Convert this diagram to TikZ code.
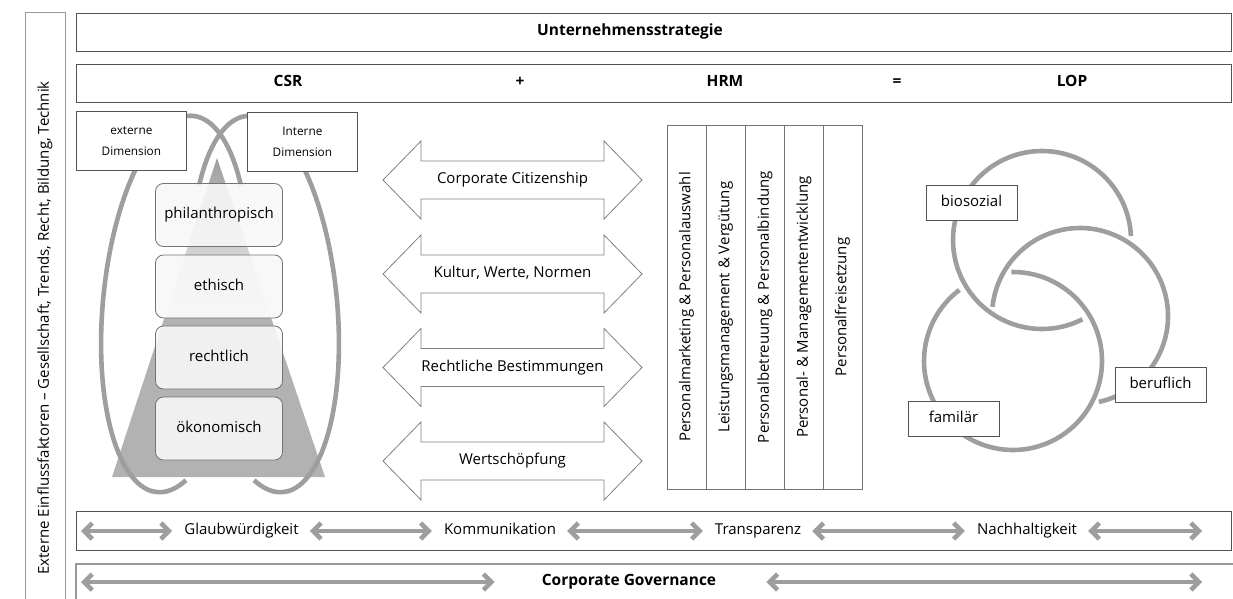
\documentclass[tikz,border=0pt]{standalone}
\usepackage{fontspec}
\setmainfont{Open Sans}
\usetikzlibrary{arrows.meta,calc}
\definecolor{boxline}{gray}{0.33}
\definecolor{lightline}{gray}{0.6}
\definecolor{ringgray}{gray}{0.62}
\definecolor{trigray}{gray}{0.70}
\begin{document}
\begin{tikzpicture}[x=1pt,y=1pt,
  box/.style={draw=boxline, line width=0.8pt, fill=white, inner sep=0pt},
  lvl/.style={draw=black!55, line width=0.8pt, fill=black!3, fill opacity=0.9, text opacity=1,
    rounded corners=8pt, minimum width=127pt, minimum height=63pt, inner sep=0pt, txt},
  ring/.style={draw=ringgray, line width=4.6pt},
  txt/.style={font=\fontsize{15}{18}\selectfont, inner sep=0pt, text height=11pt, text depth=3.5pt},
  btxt/.style={font=\fontsize{15.5}{18}\selectfont\bfseries, inner sep=0pt, text height=11pt, text depth=3.5pt},
  garrow/.style={draw=ringgray, line width=4.6pt,
    {Straight Barb[length=8pt,width=16pt]}-{Straight Barb[length=8pt,width=16pt]}},
  dimbox/.style={box, minimum width=110pt, minimum height=59pt, align=center,
    font=\fontsize{11.8}{21}\selectfont},
  vlabel/.style={box, minimum width=91pt, minimum height=35pt, txt},
  outl/.style={draw=black!50, line width=0.8pt, fill=white},
  dbl/.pic={\draw[outl] (-129.5,0) -- (-91.5,39) -- (-91.5,19) -- (91.5,19) -- (91.5,39)
     -- (129.5,0) -- (91.5,-39) -- (91.5,-19) -- (-91.5,-19) -- (-91.5,-39) -- cycle;}
]
\useasboundingbox (0,0) rectangle (1233,-599);
\clip (0,0) rectangle (1233,-599);

% left vertical box
\draw[lightline, line width=1pt] (25,-640) -- (25,-13) -- (65,-13) -- (65,-640);
\node[txt, rotate=90] (ext) at (45,-328) {Externe Einflussfaktoren – Gesellschaft, Trends, Recht, Bildung, Technik};

% header boxes
\node[box, anchor=north west, minimum width=1155pt, minimum height=38pt] (strat) at (76,-13) {};
\node[btxt] (us) at (630,-32) {Unternehmensstrategie};
\node[box, anchor=north west, minimum width=1155pt, minimum height=38pt] (eqbox) at (76,-64) {};
\node[btxt] (csr) at (288,-83) {CSR};
\node[btxt] (plus) at (520,-83) {+};
\node[btxt] (hrmt) at (725,-83) {HRM};
\node[btxt] (eqs) at (897,-83) {=};
\node[btxt] (lop) at (1072,-83) {LOP};

% pyramid
\shade[top color=black!38, bottom color=black!3] (217,-158) -- (164.3,-318) -- (271.2,-318) -- cycle;
\fill[trigray] (164.3,-318) -- (112,-477) -- (325,-477) -- (271.2,-318) -- cycle;

% ellipses
\draw[ring, shift={(175,-304)}, rotate=-5.5] (41:72 and 189)
  arc[start angle=41, end angle=292.7, x radius=72, y radius=189];
\draw[ring, shift={(265,-304)}, rotate=5.5] (139:72 and 189)
  arc[start angle=139, end angle=-112.7, x radius=72, y radius=189];

% dimension boxes
\node[dimbox, anchor=north west] (extd) at (76,-111) {externe\\Dimension};
\node[dimbox, anchor=north west] (intd) at (247,-112) {Interne\\Dimension};

% level boxes
\node[lvl] (phil) at (219,-215) {philanthropisch};
\node[lvl] (eth) at (219,-286.5) {ethisch};
\node[lvl] (recht) at (219,-357.5) {rechtlich};
\node[lvl] (oek) at (219,-428.5) {ökonomisch};

% big double arrows
\pic at (512.5,-180) {dbl};
\node[txt] (cc) at (512.5,-180) {Corporate Citizenship};
\pic at (512.5,-274) {dbl};
\node[txt] (kwn) at (512.5,-274) {Kultur, Werte, Normen};
\pic at (512.5,-367.5) {dbl};
\node[txt] (rb) at (512.5,-367.5) {Rechtliche Bestimmungen};
\pic at (512.5,-461) {dbl};
\node[txt] (ws) at (512.5,-461) {Wertschöpfung};

% HRM table
\node[draw=black!55, line width=0.8pt, minimum width=195pt, minimum height=364pt,
  anchor=north west, inner sep=0pt] (hrm) at (667,-125) {};
\foreach \dx in {39,78,117.5,156}
  \draw[black!55, line width=0.8pt] ([xshift=\dx pt]hrm.north west) -- ([xshift=\dx pt]hrm.south west);
\node[txt, rotate=90] (h1) at (686.5,-307) {Personalmarketing \& Personalauswahl};
\node[txt, rotate=90] (h2) at (725.5,-307) {Leistungsmanagement \& Vergütung};
\node[txt, rotate=90] (h3) at (765,-307) {Personalbetreuung \& Personalbindung};
\node[txt, rotate=90] (h4) at (804,-307) {Personal- \& Managemententwicklung};
\node[txt, rotate=90] (h5) at (842.5,-307) {Personalfreisetzung};

% Venn rings
\draw[ring] (1042,-240) ++(2.5:89) arc[start angle=2.5, end angle=297, radius=89];
\draw[ring] (1080,-316) ++(-77.6:88) arc[start angle=-77.6, end angle=174, radius=88];
\draw[ring] (1013,-361) ++(127:89) arc[start angle=127, end angle=451, radius=89];
\node[vlabel] (bio) at (971.5,-202.5) {biosozial};
\node[vlabel] (ber) at (1160.5,-384.5) {beruflich};
\node[vlabel] (fam) at (953.5,-418.5) {familär};

% values bar
\node[box, anchor=north west, minimum width=1155pt, minimum height=39pt] (bar) at (76,-511) {};
\node[txt] (glaub) at (241.5,-531) {Glaubwürdigkeit};
\node[txt] (komm) at (500,-531) {Kommunikation};
\node[txt] (transp) at (758,-531) {Transparenz};
\node[txt] (nach) at (1027,-531) {Nachhaltigkeit};
\coordinate (bL) at (81,-531);
\coordinate (bR) at (1202,-531);
\draw[garrow, shorten >=12pt] (bL) -- (glaub);
\draw[garrow, shorten <=11pt, shorten >=12pt] (glaub) -- (komm);
\draw[garrow, shorten <=11pt, shorten >=12pt] (komm) -- (transp);
\draw[garrow, shorten <=11pt, shorten >=12pt] (transp) -- (nach);
\draw[garrow, shorten <=11pt] (nach) -- (bR);

% corporate governance bar
\draw[lightline, line width=1.1pt] (76,-640) -- (76,-564) -- (1240,-564);
\node[btxt] (cg) at (629,-582) {Corporate Governance};
\coordinate (cL) at (81,-582);
\coordinate (cR) at (1202,-582);
\draw[garrow, shorten >=47pt] (cL) -- (cg);
\draw[garrow, shorten <=50pt] (cg) -- (cR);
\end{tikzpicture}
\end{document}
